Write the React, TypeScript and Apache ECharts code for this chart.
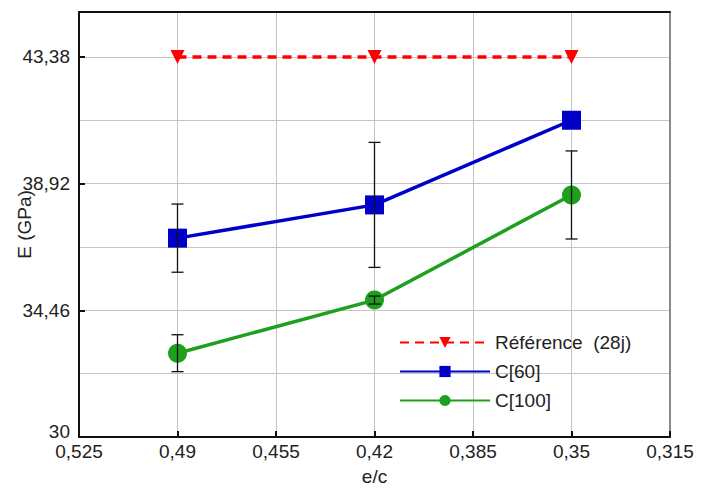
import React, { useEffect, useRef } from "react";
import * as echarts from "echarts";

const xValues = [0.49, 0.42, 0.35];
const referenceValues = [43.38, 43.38, 43.38];
const c60Values = [37.0, 38.17, 41.15];
const c60Errors = [1.2, 2.2, 0];
const c100Values = [32.95, 34.82, 38.52];
const c100Errors = [0.65, 0.14, 1.55];
const yTickLabels = ["30", "34,46", "38,92", "43,38"];
const yTickValues = [30, 34.46, 38.92, 43.38];

const FONT = "Liberation Sans, Arial, sans-serif";

export default function App() {
  const ref = useRef<HTMLDivElement>(null);
  useEffect(() => {
    if (!ref.current) return;
    const chart = echarts.init(ref.current, undefined, { renderer: "svg" });
    const pts = (vals: number[]) => xValues.map((x, i) => [x, vals[i]]);
    const errData = (vals: number[], errs: number[]) =>
      xValues.map((x, i) => [x, vals[i], errs[i]]);
    const errorRender = (params: any, api: any) => {
      const x = api.value(0);
      const v = api.value(1);
      const e = api.value(2);
      if (!e) return { type: "group", children: [] };
      const top = api.coord([x, v + e]);
      const bot = api.coord([x, v - e]);
      const hw = 6;
      const st = { stroke: "#111", lineWidth: 1.3 };
      return {
        type: "group",
        children: [
          { type: "line", shape: { x1: top[0], y1: top[1], x2: bot[0], y2: bot[1] }, style: st },
          { type: "line", shape: { x1: top[0] - hw, y1: top[1], x2: top[0] + hw, y2: top[1] }, style: st },
          { type: "line", shape: { x1: bot[0] - hw, y1: bot[1], x2: bot[0] + hw, y2: bot[1] }, style: st },
        ],
      };
    };
    const fmtX = (v: number) => String(Number(v.toFixed(3))).replace(".", ",");
    const fmtY = (v: number) => {
      for (let i = 0; i < yTickValues.length; i++) {
        if (Math.abs(v - yTickValues[i]) < 0.01) {
          return i === 0 ? "{low|" + yTickLabels[i] + "}" : yTickLabels[i];
        }
      }
      return "";
    };
    const gridLine = { show: true, lineStyle: { color: "#c4c4c4", width: 1 } };
    chart.setOption({
      animation: false,
      backgroundColor: "#fff",
      grid: { left: 79, right: 32, top: 12, bottom: 51, outerBoundsMode: "none", containLabel: false },
      legend: {
        data: ["Référence  (28j)", "C[60]", "C[100]"],
        orient: "vertical",
        left: 394,
        top: 328,
        itemWidth: 90,
        itemHeight: 14,
        itemGap: 10,
        textStyle: { fontFamily: FONT, fontSize: 19, color: "#222" },
      },
      xAxis: [
        {
          type: "value",
          inverse: true,
          min: 0.315,
          max: 0.525,
          interval: 0.035,
          name: "e/c",
          nameLocation: "middle",
          nameGap: 30,
          nameMoveOverlap: false,
          nameTextStyle: { fontFamily: FONT, fontSize: 19, color: "#222" },
          axisLine: { show: true, lineStyle: { color: "#111", width: 2 } },
          axisTick: { show: true, inside: true, length: 6, lineStyle: { color: "#111", width: 2 } },
          axisLabel: { formatter: fmtX, fontFamily: FONT, fontSize: 19, color: "#222", margin: 5 },
          splitLine: gridLine,
        },
        {
          type: "value",
          position: "top",
          inverse: true,
          min: 0.315,
          max: 0.525,
          interval: 0.035,
          axisLine: { show: true, lineStyle: { color: "#111", width: 2 } },
          axisTick: { show: false },
          axisLabel: { show: false },
          splitLine: { show: false },
        },
      ],
      yAxis: [
        {
          type: "value",
          min: 30,
          max: 44.96,
          interval: 4.46,
          name: "E (GPa)",
          nameLocation: "middle",
          nameGap: 45,
          nameMoveOverlap: false,
          nameTextStyle: { fontFamily: FONT, fontSize: 19, color: "#222" },
          axisLine: { show: true, lineStyle: { color: "#111", width: 2 } },
          axisTick: { show: true, inside: true, length: 6, lineStyle: { color: "#111", width: 2 } },
          axisLabel: {
            formatter: fmtY,
            fontFamily: FONT,
            fontSize: 19,
            color: "#222",
            margin: 9,
            rich: { low: { fontFamily: FONT, fontSize: 19, color: "#222", padding: [0, 0, 12, 0] } },
          },
          splitLine: gridLine,
          minorTick: { show: false, splitNumber: 2 },
          minorSplitLine: { show: true, lineStyle: { color: "#c4c4c4", width: 1 } },
        },
        {
          type: "value",
          position: "right",
          min: 30,
          max: 44.96,
          interval: 4.46,
          axisLine: { show: true, lineStyle: { color: "#8a8a8a", width: 2 } },
          axisTick: { show: false },
          axisLabel: { show: false },
          splitLine: { show: false },
        },
      ],
      series: [
        {
          name: "Référence  (28j)",
          type: "line",
          data: pts(referenceValues),
          symbol: "triangle",
          symbolRotate: 180,
          symbolSize: 14,
          itemStyle: { color: "#ff0000" },
          lineStyle: { color: "#ff0000", width: 3.5, type: [9, 6] },
          z: 3,
        },
        {
          name: "C[60]",
          type: "line",
          data: pts(c60Values),
          symbol: "rect",
          symbolSize: 19,
          itemStyle: { color: "#0000c8" },
          lineStyle: { color: "#0000c8", width: 3.5 },
          z: 3,
        },
        {
          name: "C[100]",
          type: "line",
          data: pts(c100Values),
          symbol: "circle",
          symbolSize: 19,
          itemStyle: { color: "#1ea01e" },
          lineStyle: { color: "#1ea01e", width: 3.5 },
          z: 3,
        },
        {
          type: "custom",
          renderItem: errorRender,
          data: errData(c60Values, c60Errors),
          encode: { x: 0, y: 1 },
          z: 5,
          silent: true,
        },
        {
          type: "custom",
          renderItem: errorRender,
          data: errData(c100Values, c100Errors),
          encode: { x: 0, y: 1 },
          z: 5,
          silent: true,
        },
      ],
    });
    return () => chart.dispose();
  }, []);
  return (
    <div
      ref={ref}
      style={{ position: "fixed", left: 0, top: 0, width: 702, height: 488 }}
    />
  );
}
